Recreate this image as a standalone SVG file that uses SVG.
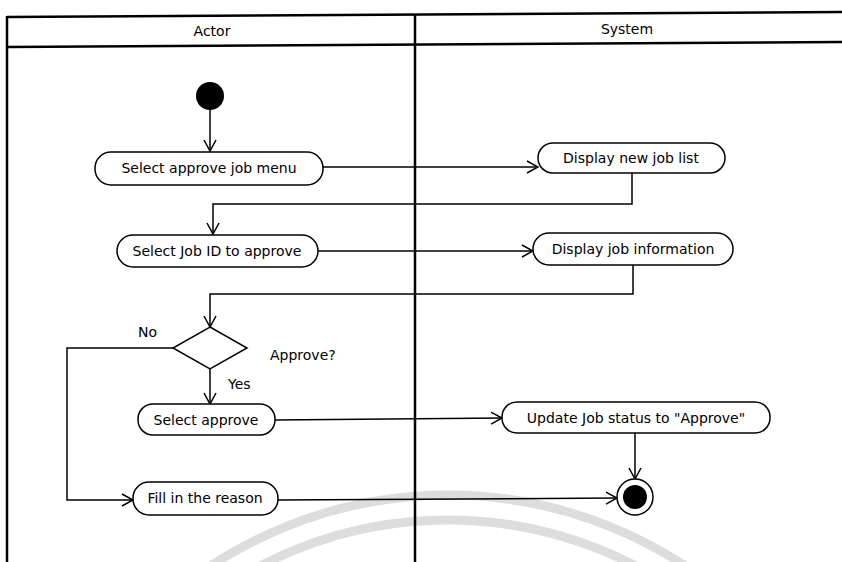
<svg xmlns="http://www.w3.org/2000/svg" width="842" height="562" viewBox="0 0 842 562">
  <defs>
    <marker id="arr" markerWidth="13" markerHeight="14" refX="12" refY="7" orient="auto" markerUnits="userSpaceOnUse">
      <path d="M1,1 L12,7 L1,13" fill="none" stroke="#000" stroke-width="1.5"/>
    </marker>
    <style>
      .frame { stroke: #000; stroke-width: 2.5; fill: none; }
      .node rect { fill: #fff; stroke: #000; stroke-width: 1.5; }
      .node text, .lbl { font-family: "DejaVu Sans", Verdana, sans-serif; font-size: 14px; fill: #000; }
      .node text { text-anchor: middle; }
      .hdr { font-family: "DejaVu Sans", Verdana, sans-serif; font-size: 14px; text-anchor: middle; fill: #000; }
      .conn path { fill: none; stroke: #000; stroke-width: 1.5; marker-end: url(#arr); }
      .wm { fill: none; stroke: #dddddd; stroke-width: 9; }
    </style>
  </defs>
  <rect width="842" height="562" fill="#fff"/>

  <!-- watermark arcs -->
  <g id="watermark">
    <circle class="wm" cx="448" cy="927" r="432"/>
    <circle class="wm" cx="448" cy="927" r="407"/>
  </g>

  <!-- swimlanes -->
  <g id="lanes">
    <line class="frame" x1="7" y1="17" x2="842" y2="12"/>
    <line class="frame" x1="7" y1="47" x2="842" y2="42"/>
    <line class="frame" x1="7" y1="16" x2="7" y2="562"/>
    <line class="frame" x1="415" y1="15" x2="415" y2="562" stroke-width="3"/>
    <text class="hdr" x="212" y="36">Actor</text>
    <text class="hdr" x="627" y="34">System</text>
  </g>

  <!-- connectors -->
  <g id="connectors" class="conn">
    <path d="M210,110 L210,151"/>
    <path d="M323,167 L538,167"/>
    <path d="M632,173 L632,204 L213,204 L213,234"/>
    <path d="M318,251 L533,251"/>
    <path d="M633,265 L633,294 L210,294 L210,327"/>
    <path d="M173,348 L67,348 L67,500 L133,500"/>
    <path d="M210,369 L210,404"/>
    <path d="M275,420 L502,418"/>
    <path d="M635,433 L635,479"/>
    <path d="M278,500 L617,498"/>
  </g>

  <g id="start">
    <circle cx="210" cy="96" r="14" fill="#000"/>
  </g>

  <g id="selectMenu" class="node">
    <rect x="95" y="152" width="228" height="33" rx="16"/>
    <text x="209" y="173">Select approve job menu</text>
  </g>

  <g id="displayNewJobList" class="node">
    <rect x="538" y="143" width="187" height="30" rx="15"/>
    <text x="631" y="163">Display new job list</text>
  </g>

  <g id="selectJobId" class="node">
    <rect x="117" y="235" width="201" height="32" rx="16"/>
    <text x="217" y="256">Select Job ID to approve</text>
  </g>

  <g id="displayJobInfo" class="node">
    <rect x="533" y="233" width="200" height="32" rx="16"/>
    <text x="633" y="254">Display job information</text>
  </g>

  <g id="decision">
    <path d="M210,327 L247,348 L210,369 L173,348 Z" fill="#fff" stroke="#000" stroke-width="1.5"/>
    <text class="lbl" x="138" y="337">No</text>
    <text class="lbl" x="270" y="360">Approve?</text>
    <text class="lbl" x="228" y="389">Yes</text>
  </g>

  <g id="selectApprove" class="node">
    <rect x="138" y="404" width="137" height="31" rx="15"/>
    <text x="206" y="425">Select approve</text>
  </g>

  <g id="updateStatus" class="node">
    <rect x="502" y="402" width="268" height="31" rx="15"/>
    <text x="636" y="423">Update Job status to "Approve"</text>
  </g>

  <g id="fillReason" class="node">
    <rect x="133" y="482" width="145" height="33" rx="16"/>
    <text x="205" y="503">Fill in the reason</text>
  </g>

  <g id="end">
    <circle cx="635" cy="497" r="18" fill="#fff" stroke="#000" stroke-width="1.5"/>
    <circle cx="635" cy="497" r="12" fill="#000"/>
  </g>
</svg>
